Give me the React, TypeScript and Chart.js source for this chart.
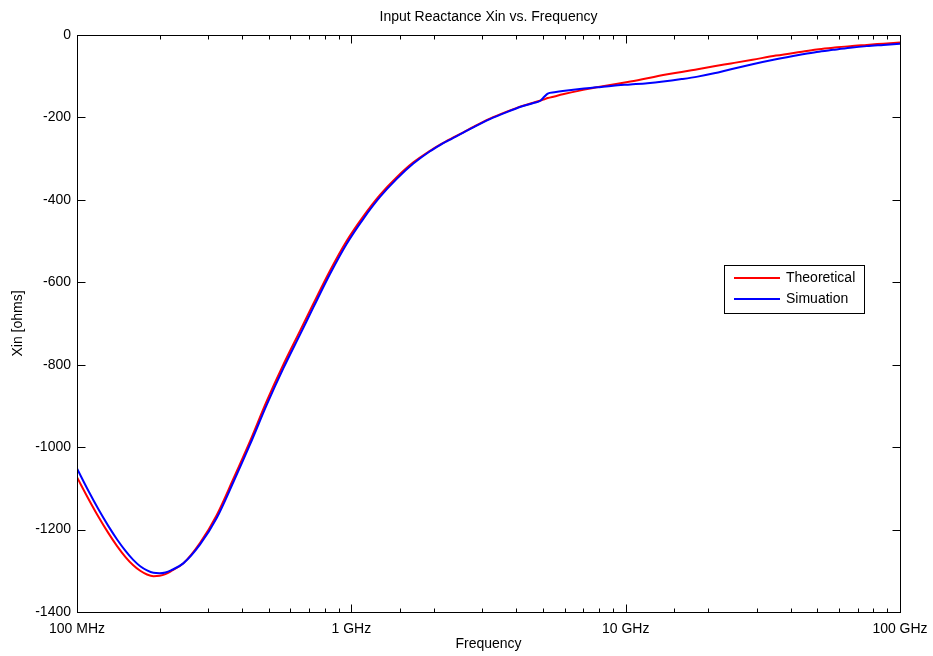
import React, { useEffect, useRef } from "react";
import { Chart, registerables } from "chart.js";

Chart.register(...registerables);

// Frequency in GHz
const freqGHz = [
  0.1, 0.11, 0.12, 0.13, 0.14, 0.15, 0.16, 0.17, 0.18, 0.19, 0.2, 0.21, 0.22,
  0.244, 0.281, 0.323, 0.372, 0.427, 0.491, 0.565, 0.65, 0.727, 0.836, 0.961,
  1.106, 1.272, 1.464, 1.683, 1.936, 2.106, 2.228, 2.56, 2.785, 3.2, 3.687, 4.2,
  4.61, 4.9, 5.05, 5.2, 5.5, 5.9, 6.8, 7.85, 9.0, 10.4, 12.0, 13.7, 16.0, 18.3,
  21.0, 24.2, 29.0, 35.3, 43.2, 49.7, 57, 65.8, 75.7, 87, 100,
];

const theoretical = [
  -1073, -1125, -1170, -1208, -1240, -1266, -1286, -1300, -1309, -1313, -1312,
  -1308, -1301, -1282, -1232, -1165, -1076, -986, -889, -800, -718, -652, -572,
  -500, -440, -388, -345, -309, -281, -266, -257, -236, -223, -203, -186, -172,
  -164, -159, -156, -153, -149, -144, -135, -127, -120, -113, -105, -97, -90,
  -83, -76, -69, -60, -50, -41, -35, -31, -27, -24, -21, -18,
];

const simulation = [
  -1052, -1106, -1152, -1191, -1224, -1251, -1273, -1289, -1299, -1305, -1306,
  -1304, -1299, -1282, -1236, -1172, -1084, -994, -898, -809, -727, -661, -580,
  -507, -446, -393, -349, -312, -282, -267, -258, -237, -224, -204, -187, -173,
  -165, -159, -150, -142, -139, -136, -131, -127, -123, -120, -117, -113, -107,
  -101, -93, -83, -71, -59, -48, -41, -36, -31, -27, -24, -21,
];

const xTickValues = [0.1, 1, 10, 100];
const xTickLabels = ["100 MHz", "1 GHz", "10 GHz", "100 GHz"];
const yMin = -1400;
const yMax = 0;
const yStep = 200;

const seriesNames = ["Theoretical", "Simuation"];
const seriesColors = ["#ff0000", "#0000ff"];
const chartTitle = "Input Reactance Xin vs. Frequency";
const xTitle = "Frequency";
const yTitle = "Xin [ohms]";

const FONT_FAMILY = "'Liberation Sans', Arial, Helvetica, sans-serif";

const isDecade = (v: number) => {
  const l = Math.log10(v);
  return Math.abs(l - Math.round(l)) < 1e-6;
};

const decorPlugin = {
  id: "decor",
  afterDraw(chart: any) {
    const { ctx, chartArea: a } = chart;
    const xs = chart.scales.x;
    const ys = chart.scales.y;
    ctx.save();
    ctx.strokeStyle = "#000";
    ctx.lineWidth = 1;
    const line = (x1: number, y1: number, x2: number, y2: number) => {
      ctx.beginPath();
      ctx.moveTo(x1, y1);
      ctx.lineTo(x2, y2);
      ctx.stroke();
    };
    const L = Math.round(a.left) + 0.5;
    const R = Math.round(a.right) + 0.5;
    const T = Math.round(a.top) + 0.5;
    const B = Math.round(a.bottom) + 0.5;
    ctx.strokeRect(L, T, R - L, B - T);
    // x ticks (inward, top and bottom)
    xs.ticks.forEach((t: any) => {
      const px = Math.round(xs.getPixelForValue(t.value)) + 0.5;
      const len = isDecade(t.value) ? 8 : 4;
      line(px, B, px, B - len);
      line(px, T, px, T + len);
    });
    // y ticks (inward, left and right)
    ys.ticks.forEach((t: any) => {
      const py = Math.round(ys.getPixelForValue(t.value)) + 0.5;
      line(L, py, L + 8, py);
      line(R, py, R - 8, py);
    });
    // title
    ctx.fillStyle = "#000";
    ctx.font = `14px ${FONT_FAMILY}`;
    ctx.textAlign = "center";
    ctx.textBaseline = "middle";
    ctx.fillText(chartTitle, (a.left + a.right) / 2, 17);
    // legend
    const bx = 724.5, by = 265.5, bw = 140, bh = 48;
    ctx.fillStyle = "#fff";
    ctx.fillRect(bx, by, bw, bh);
    ctx.strokeStyle = "#000";
    ctx.strokeRect(bx, by, bw, bh);
    const rows = [278, 299];
    chart.data.datasets.forEach((ds: any) => {
      const idx = seriesNames.indexOf(ds.label);
      const yy = rows[idx];
      ctx.strokeStyle = ds.borderColor;
      ctx.lineWidth = 2;
      line(734, yy, 780, yy);
      ctx.fillStyle = "#000";
      ctx.textAlign = "left";
      ctx.textBaseline = "middle";
      ctx.fillText(ds.label, 786, yy);
    });
    ctx.restore();
  },
};

export default function App() {
  const ref = useRef<HTMLCanvasElement>(null);
  useEffect(() => {
    if (!ref.current) return;
    const mk = (vals: number[]) => freqGHz.map((f, i) => ({ x: f, y: vals[i] }));
    const chart = new Chart(ref.current, {
      type: "line",
      data: {
        datasets: [
          {
            label: seriesNames[0],
            data: mk(theoretical),
            borderColor: seriesColors[0],
            backgroundColor: seriesColors[0],
            borderWidth: 2,
            pointRadius: 0,
            cubicInterpolationMode: "monotone",
            order: 2,
          },
          {
            label: seriesNames[1],
            data: mk(simulation),
            borderColor: seriesColors[1],
            backgroundColor: seriesColors[1],
            borderWidth: 2,
            pointRadius: 0,
            cubicInterpolationMode: "monotone",
            order: 1,
          },
        ],
      },
      options: {
        responsive: false,
        animation: false,
        devicePixelRatio: 1,
        layout: { padding: { top: 35, right: 33, left: 0, bottom: 0 } },
        plugins: {
          legend: { display: false },
          tooltip: { enabled: false },
          title: { display: false },
        },
        scales: {
          x: {
            type: "logarithmic",
            min: 0.1,
            max: 100,
            grid: { display: false, drawTicks: false },
            border: { display: false },
            afterFit: (s: any) => {
              s.height = 44;
              s.paddingLeft = 0;
              s.paddingRight = 0;
            },
            ticks: {
              autoSkip: false,
              maxRotation: 0,
              minRotation: 0,
              padding: 9,
              color: "#000",
              font: { family: FONT_FAMILY, size: 14 },
              callback: (v: any) => {
                const val = Number(v);
                const i = xTickValues.findIndex((t) => Math.abs(Math.log10(t) - Math.log10(val)) < 1e-6);
                return i >= 0 ? xTickLabels[i] : "";
              },
            },
            title: {
              display: true,
              text: xTitle,
              color: "#000",
              font: { family: FONT_FAMILY, size: 14 },
              padding: { top: 0, bottom: 3 },
            },
          },
          y: {
            type: "linear",
            min: yMin,
            max: yMax,
            grid: { display: false, drawTicks: false },
            border: { display: false },
            afterFit: (s: any) => {
              s.width = 77;
              s.paddingTop = 0;
              s.paddingBottom = 0;
            },
            ticks: {
              stepSize: yStep,
              padding: 6,
              color: "#000",
              font: { family: FONT_FAMILY, size: 14 },
              callback: (v: any) => String(v),
            },
            title: {
              display: true,
              text: yTitle,
              color: "#000",
              font: { family: FONT_FAMILY, size: 14 },
              padding: { top: 10, bottom: 0 },
            },
          },
        },
      },
      plugins: [decorPlugin],
    } as any);
    return () => chart.destroy();
  }, []);
  return (
    <div style={{ position: "fixed", left: 0, top: 0, width: 933, height: 656, background: "#fff" }}>
      <canvas ref={ref} width={933} height={656} style={{ display: "block" }} />
    </div>
  );
}
